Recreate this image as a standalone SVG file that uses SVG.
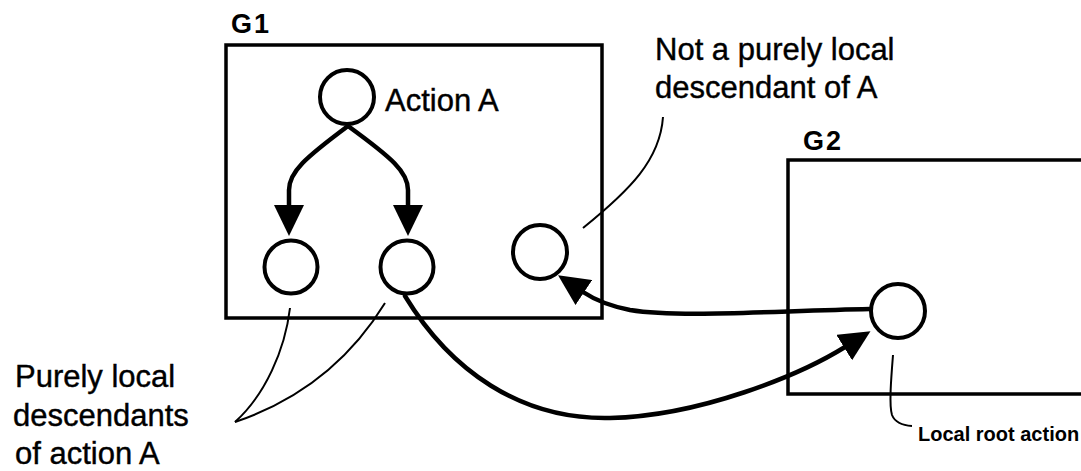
<svg xmlns="http://www.w3.org/2000/svg" width="1081" height="471" viewBox="0 0 1081 471">
<style>
.box{fill:none;stroke:#000;stroke-width:3.5}
.node{fill:#fff;stroke:#000;stroke-width:4}
.edge{fill:none;stroke:#000;stroke-width:4.5;stroke-linecap:round}
.lead{fill:none;stroke:#000;stroke-width:2}
.t{font-family:"Liberation Sans",Arial,sans-serif;font-size:31px;fill:#000;stroke:#000;stroke-width:0.4}
.g{font-family:"Liberation Sans",Arial,sans-serif;font-size:27px;font-weight:bold;fill:#000;letter-spacing:2px}
.s{font-family:"Liberation Sans",Arial,sans-serif;font-size:20px;font-weight:bold;fill:#000}
</style>
<defs>
<marker id="arr" viewBox="0 0 31 30" refX="1" refY="15" markerWidth="31" markerHeight="30" markerUnits="userSpaceOnUse" orient="auto">
<path d="M0,0 L31,15 L0,30 z" fill="#000"/>
</marker>
</defs>
<rect width="1081" height="471" fill="#fff"/>
<g id="G1">
<rect class="box" x="226" y="45" width="376" height="273"/>
<text class="g" x="231" y="33">G1</text>
</g>
<g id="G2">
<rect class="box" x="788" y="160" width="320" height="234"/>
<text class="g" x="803" y="150">G2</text>
</g>
<g id="connectors">
<path class="edge" d="M348,126 C305,158 289,172 289,190 L289,206" marker-end="url(#arr)"/>
<path class="edge" d="M348,126 C392,158 408,172 408,190 L408,206" marker-end="url(#arr)"/>
<path class="edge" d="M405,296 C450,370 520,420 610,418 C700,416 800,375 845,347" marker-end="url(#arr)"/>
<path class="edge" d="M870,309 C770,311 680,318 630,310 C610,306 595,300 583,292" marker-end="url(#arr)"/>
<path class="lead" d="M663,117 C660,160 630,190 583,228"/>
<path class="lead" d="M290,308 C285,350 265,395 235,422"/>
<path class="lead" d="M385,303 C350,360 300,400 235,422"/>
<path class="lead" d="M893,355 C891,380 889,405 892,415 Q896,425 912,426"/>
</g>
<g id="actionA">
<circle class="node" cx="347" cy="97" r="27"/>
<text class="t" x="385" y="111">Action A</text>
</g>
<g id="child1"><circle class="node" cx="291" cy="267" r="26.5"/></g>
<g id="child2"><circle class="node" cx="407" cy="267" r="26.5"/></g>
<g id="nonlocal"><circle class="node" cx="540" cy="252" r="27"/></g>
<g id="localroot"><circle class="node" cx="898" cy="311" r="27"/></g>
<g id="labels">
<text class="t" x="655" y="60">Not a purely local</text>
<text class="t" x="655" y="98">descendant of A</text>
<text class="t" x="15" y="387">Purely local</text>
<text class="t" x="13" y="426">descendants</text>
<text class="t" x="15" y="464">of action A</text>
<text class="s" x="918" y="441">Local root action</text>
</g>
</svg>
